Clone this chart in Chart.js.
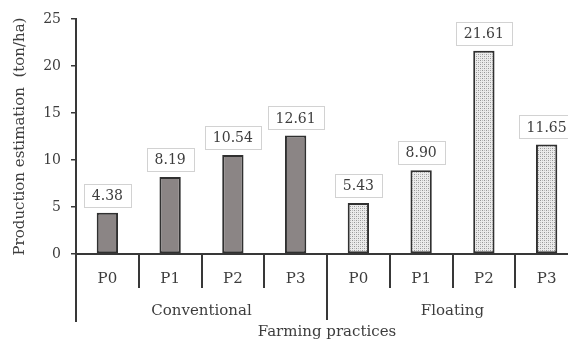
<!DOCTYPE html>
<html>
<head>
<meta charset="utf-8">
<script src="https://cdn.jsdelivr.net/npm/chart.js@4.4.1/dist/chart.umd.min.js"></script>
<style>
  html, body { margin: 0; padding: 0; overflow: hidden; background: #fff; }
  canvas { display: block; }
</style>
</head>
<body>
<canvas id="c" width="580" height="344"></canvas>
<script>
// Production estimate per fertiliser treatment, for two farming systems
const practices = ['P0', 'P1', 'P2', 'P3'];
const systems = ['Conventional', 'Floating'];
const conventional = [4.38, 8.19, 10.54, 12.61];
const floating = [5.43, 8.90, 21.61, 11.65];
const yTicks = [0, 5, 10, 15, 20, 25];
const yTitle = 'Production estimation  (ton/ha)';
const xTitle = 'Farming practices';

const SERIF = '"DejaVu Serif", "Liberation Serif", serif';
const INK = '#3d3d3d';
const AXIS = '#383838';

// stippled fill used for the floating-system bars
function stipple() {
  const t = document.createElement('canvas');
  t.width = 4; t.height = 4;
  const g = t.getContext('2d');
  g.fillStyle = '#ebebeb'; g.fillRect(0, 0, 4, 4);
  g.fillStyle = '#969696'; g.fillRect(0, 0, 1, 1); g.fillRect(2, 2, 1, 1);
  g.fillStyle = '#bcbcbc'; g.fillRect(2, 0, 1, 1); g.fillRect(0, 2, 1, 1);
  return g.createPattern(t, 'repeat');
}
const ctx0 = document.getElementById('c').getContext('2d');
const dots = stipple();

const labels = systems.flatMap(() => practices);
const values = conventional.concat(floating);
const fills = conventional.map(() => '#8b8585').concat(floating.map(() => dots));

// boxed value labels above each bar
const valueBoxes = {
  id: 'valueBoxes',
  afterDatasetsDraw(chart) {
    const { ctx } = chart;
    const meta = chart.getDatasetMeta(0);
    ctx.save();
    ctx.font = '14px ' + SERIF;
    ctx.textAlign = 'center';
    ctx.textBaseline = 'middle';
    meta.data.forEach((bar, i) => {
      const txt = values[i].toFixed(2);
      const w = ctx.measureText(txt).width + 16;
      const h = 23;
      const bottom = bar.y - 6;
      const left = bar.x - w / 2;
      ctx.fillStyle = '#fff';
      ctx.fillRect(left, bottom - h, w, h);
      ctx.strokeStyle = '#d2d2d2';
      ctx.lineWidth = 1;
      ctx.strokeRect(Math.round(left) + 0.5, Math.round(bottom - h) + 0.5, Math.round(w), h);
      ctx.fillStyle = INK;
      ctx.fillText(txt, bar.x, bottom - h / 2 + 1);
    });
    ctx.restore();
  }
};

// category separators, system labels and axis title below the x axis
const groupAxis = {
  id: 'groupAxis',
  afterDraw(chart) {
    const { ctx, chartArea: a, scales: { x } } = chart;
    const n = practices.length;
    const px = i => x.getPixelForValue(i);
    const bound = i => (px(i - 1) + px(i)) / 2;
    ctx.save();
    ctx.strokeStyle = AXIS;
    ctx.lineWidth = 2;
    ctx.beginPath();
    for (let i = 1; i < labels.length; i++) {
      const bx = Math.round(bound(i));
      const len = i % n === 0 ? 66 : 34;
      ctx.moveTo(bx, a.bottom); ctx.lineTo(bx, a.bottom + len);
    }
    ctx.moveTo(a.left, a.bottom); ctx.lineTo(a.left, a.bottom + 68);
    ctx.stroke();

    ctx.fillStyle = INK;
    ctx.font = '15px ' + SERIF;
    ctx.textAlign = 'center';
    ctx.textBaseline = 'middle';
    systems.forEach((s, g) => {
      const cx = (px(g * n) + px(g * n + n - 1)) / 2;
      ctx.fillText(s, cx, a.bottom + 57);
    });
    ctx.textBaseline = 'alphabetic';
    ctx.fillText(xTitle, bound(n), a.bottom + 82);
    ctx.restore();
  }
};

new Chart(ctx0, {
  type: 'bar',
  data: {
    labels,
    datasets: [{
      data: values,
      backgroundColor: fills,
      borderColor: '#303030',
      borderWidth: 2,
      borderSkipped: false,
      categoryPercentage: 1,
      barPercentage: 0.34
    }]
  },
  options: {
    responsive: false,
    animation: false,
    devicePixelRatio: 1,
    layout: { padding: { top: 19, right: 2, bottom: 0, left: 0 } },
    plugins: { legend: { display: false }, tooltip: { enabled: false } },
    scales: {
      x: {
        grid: { display: false, drawTicks: false },
        border: { display: true, color: AXIS, width: 2 },
        ticks: { color: INK, font: { family: SERIF, size: 15 }, padding: 16, maxRotation: 0, autoSkip: false },
        afterFit(s) { s.height = 90; }
      },
      y: {
        min: yTicks[0],
        max: yTicks[yTicks.length - 1],
        afterBuildTicks(s) { s.ticks = yTicks.map(v => ({ value: v })); },
        grid: { drawOnChartArea: false, drawTicks: true, tickLength: 5, color: AXIS, lineWidth: 1.5 },
        border: { display: true, color: AXIS, width: 2 },
        ticks: { color: INK, font: { family: SERIF, size: 14 }, padding: 10 },
        title: {
          display: true, text: yTitle, color: INK,
          font: { family: SERIF, size: 15 }, padding: { top: 11, bottom: 0 }
        },
        afterFit(s) { s.width = 76; }
      }
    }
  },
  plugins: [valueBoxes, groupAxis]
});
</script>
</body>
</html>
